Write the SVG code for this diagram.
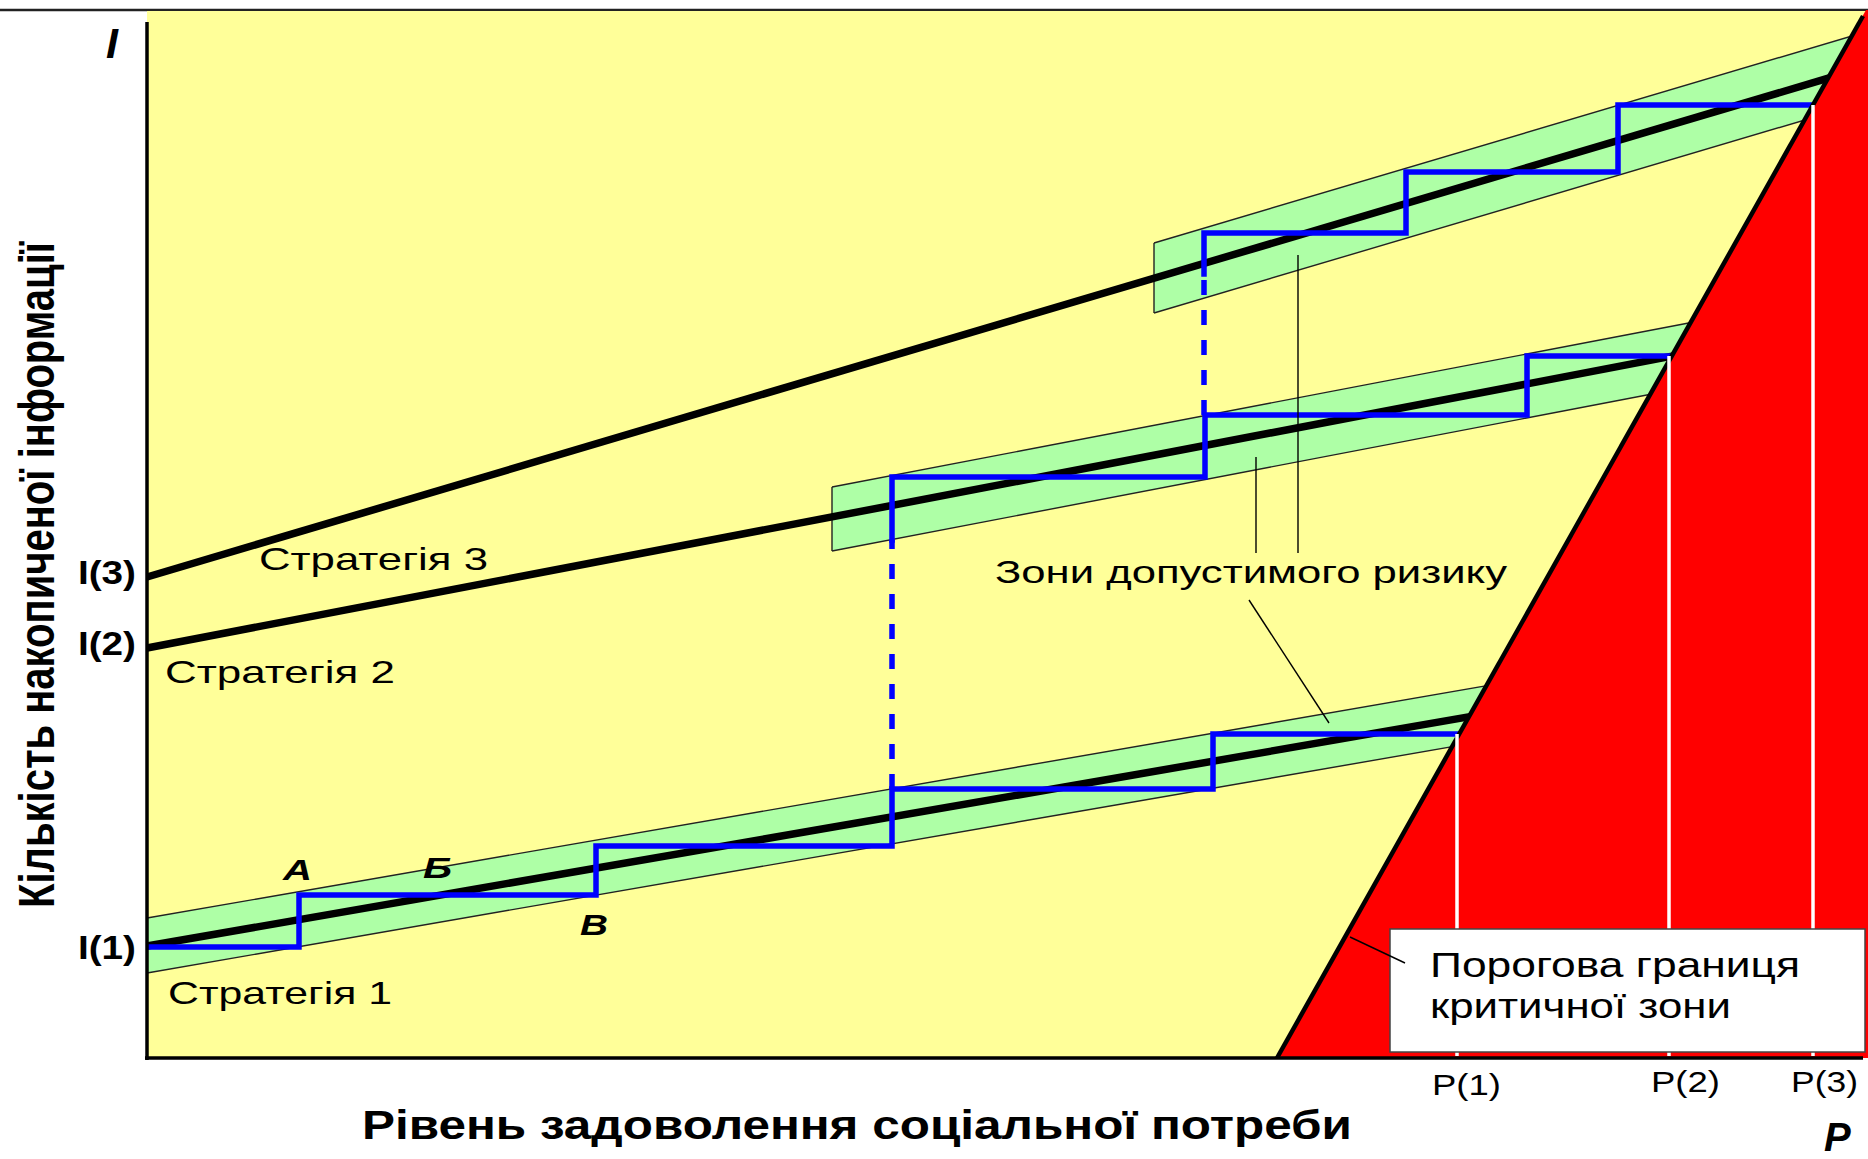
<svg xmlns="http://www.w3.org/2000/svg" width="1868" height="1159" viewBox="0 0 1868 1159">
<style>
.t{font-family:"Liberation Sans",Arial,sans-serif;fill:#000}
.b{font-weight:bold}
.i{font-style:italic}
.band{fill:#AEFFA6;stroke:none}
.edge{stroke:#222;stroke-width:1.4;fill:none}
.strat{stroke:#000;stroke-width:7.5;fill:none;stroke-linecap:butt}
.step{stroke:#0000FF;stroke-width:5.5;fill:none;stroke-linejoin:miter;stroke-linecap:square}
.dash{stroke:#0000FF;stroke-width:5.5;fill:none;stroke-dasharray:15 15}
.lead{stroke:#000;stroke-width:1.4;fill:none}
.wl{stroke:#fff;stroke-width:3.5}
</style>
<rect x="0" y="0" width="1868" height="1159" fill="#fff"/>
<line x1="0" y1="10" x2="1868" y2="10" stroke="#222" stroke-width="2.5"/>
<rect x="147" y="11" width="1721" height="1047" fill="#FFFF99"/>

<g id="zones">
  <g id="zone1">
    <polygon class="band" points="147,918 1500,683.4 1500,738.4 147,973"/>
    <line class="edge" x1="147" y1="918" x2="1500" y2="683.4"/>
    <line class="edge" x1="147" y1="973" x2="1500" y2="738.4"/>
  </g>
  <g id="zone2">
    <polygon class="band" points="832,487 1720,317 1720,381 832,551"/>
    <line class="edge" x1="832" y1="487" x2="1720" y2="317"/>
    <line class="edge" x1="832" y1="551" x2="1720" y2="381"/>
    <line class="edge" x1="832" y1="487" x2="832" y2="551"/>
  </g>
  <g id="zone3">
    <polygon class="band" points="1154,243 1868,31.2 1868,101.2 1154,313"/>
    <line class="edge" x1="1154" y1="243" x2="1868" y2="31.2"/>
    <line class="edge" x1="1154" y1="313" x2="1868" y2="101.2"/>
    <line class="edge" x1="1154" y1="243" x2="1154" y2="313"/>
  </g>
</g>

<g id="strategies">
  <line id="strategy1" class="strat" x1="147" y1="946" x2="1480" y2="714.9"/>
  <line id="strategy2" class="strat" x1="147" y1="648" x2="1680" y2="354.6"/>
  <line id="strategy3" class="strat" x1="147" y1="577" x2="1840" y2="74.7"/>
</g>

<g id="connectors">
  <path id="steps1" class="step" d="M149,947 H299 V895 H596 V846 H892 V789 H1213 V734 H1457"/>
  <path id="steps2" class="step" d="M892,540 V477 H1205 V415 H1527 V356 H1668"/>
  <path id="steps3" class="step" d="M1204,274 V233 H1406 V172 H1618 V105 H1812"/>
  <path class="dash" d="M892,789 V540"/>
  <path class="dash" d="M1204,415 V274"/>
</g>

<g id="critical-zone">
  <polygon points="1277,1058 1866,10 1868,10 1868,1058" fill="#FF0000"/>
  <line x1="1277" y1="1058" x2="1863" y2="16" stroke="#000" stroke-width="4.5"/>
  <line class="wl" x1="1457" y1="734" x2="1457" y2="1056"/>
  <line class="wl" x1="1669" y1="356" x2="1669" y2="1056"/>
  <line class="wl" x1="1813" y1="105" x2="1813" y2="1056"/>
</g>

<g id="axes">
  <line x1="147" y1="22" x2="147" y2="1060" stroke="#000" stroke-width="3.5"/>
  <line x1="145" y1="1058" x2="1863" y2="1058" stroke="#000" stroke-width="3.5"/>
</g>

<g id="threshold-box">
  <rect x="1390" y="929" width="475" height="123" fill="#fff" stroke="#444" stroke-width="1.5"/>
  <text class="t" x="1430" y="977" font-size="35" textLength="370" lengthAdjust="spacingAndGlyphs">Порогова границя</text>
  <text class="t" x="1430" y="1018" font-size="35" textLength="301" lengthAdjust="spacingAndGlyphs">критичної зони</text>
</g>

<g id="leaders">
  <line class="lead" x1="1256" y1="457" x2="1256" y2="553"/>
  <line class="lead" x1="1298" y1="255" x2="1298" y2="553"/>
  <line class="lead" x1="1249" y1="600" x2="1329" y2="723"/>
  <line class="lead" x1="1350" y1="937" x2="1405" y2="963"/>
</g>

<g id="labels">
  <text class="t b" transform="translate(54,908) rotate(-90) scale(1,1.25)" font-size="40" textLength="666" lengthAdjust="spacingAndGlyphs">Кількість накопиченої інформації</text>
  <text class="t b i" x="106" y="58" font-size="43">I</text>
  <text class="t b" x="78" y="584" font-size="34" textLength="58" lengthAdjust="spacingAndGlyphs">I(3)</text>
  <text class="t b" x="78" y="655" font-size="34" textLength="58" lengthAdjust="spacingAndGlyphs">I(2)</text>
  <text class="t b" x="78" y="959" font-size="34" textLength="58" lengthAdjust="spacingAndGlyphs">I(1)</text>
  <text class="t" x="259" y="570" font-size="32" textLength="229" lengthAdjust="spacingAndGlyphs">Стратегія 3</text>
  <text class="t" x="165" y="683" font-size="32" textLength="230" lengthAdjust="spacingAndGlyphs">Стратегія 2</text>
  <text class="t" x="168" y="1004" font-size="32" textLength="224" lengthAdjust="spacingAndGlyphs">Стратегія 1</text>
  <text class="t b i" x="283" y="880" font-size="30" textLength="29" lengthAdjust="spacingAndGlyphs">А</text>
  <text class="t b i" x="423" y="878" font-size="30" textLength="29" lengthAdjust="spacingAndGlyphs">Б</text>
  <text class="t b i" x="580" y="935" font-size="30" textLength="28" lengthAdjust="spacingAndGlyphs">В</text>
  <text class="t" x="995" y="583" font-size="32" textLength="512" lengthAdjust="spacingAndGlyphs">Зони допустимого ризику</text>
  <text class="t" x="1432" y="1095" font-size="30" fill="#222" textLength="69" lengthAdjust="spacingAndGlyphs">P(1)</text>
  <text class="t" x="1651" y="1092" font-size="30" fill="#222" textLength="69" lengthAdjust="spacingAndGlyphs">P(2)</text>
  <text class="t" x="1791" y="1092" font-size="30" fill="#222" textLength="67" lengthAdjust="spacingAndGlyphs">P(3)</text>
  <text class="t b" x="362" y="1139" font-size="40" textLength="990" lengthAdjust="spacingAndGlyphs">Рівень задоволення соціальної потреби</text>
  <text class="t b i" x="1824" y="1151" font-size="40">P</text>
</g>
</svg>
